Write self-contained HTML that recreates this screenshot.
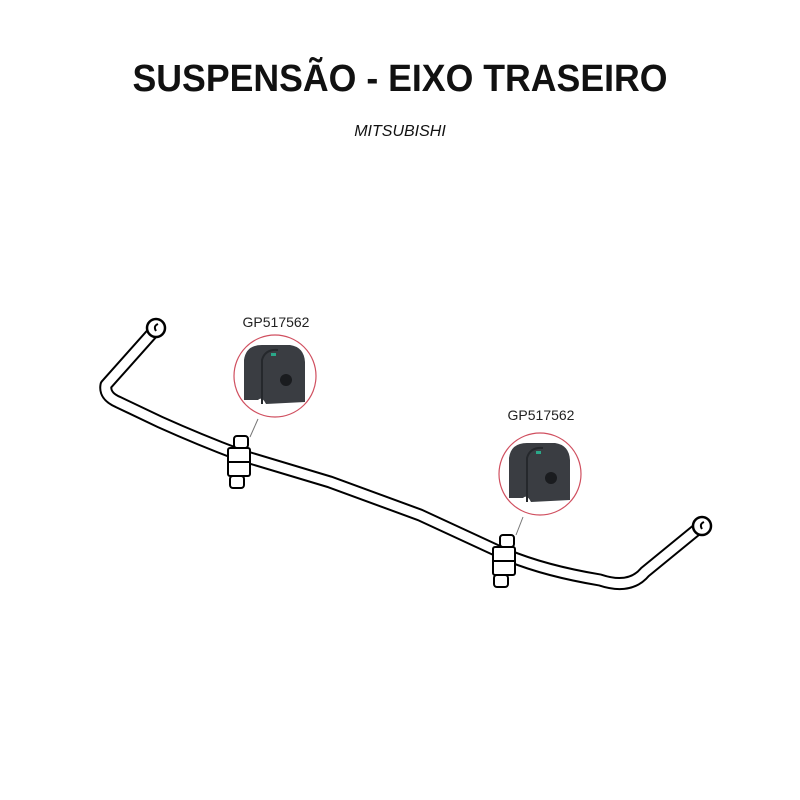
<!DOCTYPE html>
<html><head><meta charset="utf-8"><style>body{margin:0;background:#fff}svg{display:block}</style></head>
<body>
<svg width="800" height="800" viewBox="0 0 800 800" xmlns="http://www.w3.org/2000/svg">
<rect width="800" height="800" fill="#fff"/>
<text x="400" y="91" text-anchor="middle" font-family="Liberation Sans, sans-serif" font-weight="bold" font-size="38" textLength="535" lengthAdjust="spacingAndGlyphs" fill="#111">SUSPENSÃO - EIXO TRASEIRO</text>
<text x="400" y="136" text-anchor="middle" font-family="Liberation Sans, sans-serif" font-style="italic" font-size="16" font-weight="500" fill="#111">MITSUBISHI</text>

<g fill="none" stroke-linejoin="round" stroke-linecap="round">
<path d="M155,330 L106,385 Q104,396 118,402 L160,422 Q200,440 240,455 L330,482 L420,515 L500,552 Q540,570 600,580 Q630,590 645,572 L700,527" stroke="#000" stroke-width="13"/>
<path d="M155,330 L106,385 Q104,396 118,402 L160,422 Q200,440 240,455 L330,482 L420,515 L500,552 Q540,570 600,580 Q630,590 645,572 L700,527" stroke="#fff" stroke-width="9"/>
</g>
<circle cx="156" cy="328" r="9" fill="#fff" stroke="#000" stroke-width="2.5"/>
<path d="M158,324 q-5,2 -2,7" fill="none" stroke="#000" stroke-width="2"/>
<circle cx="702" cy="526" r="9" fill="#fff" stroke="#000" stroke-width="2.5"/>
<path d="M704,522 q-5,2 -2,7" fill="none" stroke="#000" stroke-width="2"/>

<g fill="#fff" stroke="#000" stroke-width="2">
<rect x="234" y="436" width="14" height="12" rx="3"/>
<rect x="228" y="448" width="22" height="28" rx="2"/>
<rect x="230" y="476" width="14" height="12" rx="3"/>
<line x1="228" y1="462" x2="250" y2="462"/>
<rect x="500" y="535" width="14" height="12" rx="3"/>
<rect x="493" y="547" width="22" height="28" rx="2"/>
<rect x="494" y="575" width="14" height="12" rx="3"/>
<line x1="493" y1="561" x2="515" y2="561"/>
</g>

<line x1="258" y1="419" x2="250" y2="437" stroke="#777" stroke-width="1"/>
<line x1="523" y1="517" x2="516" y2="535" stroke="#777" stroke-width="1"/>

<circle cx="275" cy="376" r="41" fill="#fff" stroke="#d05060" stroke-width="1.2"/>
<circle cx="540" cy="474" r="41" fill="#fff" stroke="#d05060" stroke-width="1.2"/>

<g id="b1">
<path d="M244,400 L244,360 Q246,345 262,345 L290,345 Q304,347 305,362 L305,402 L266,404 Q262,396 258,400 Z" fill="#3a3d42"/>
<path d="M262,404 L262,360 Q265,349 278,350" fill="none" stroke="#25282c" stroke-width="2"/>
<circle cx="286" cy="380" r="6" fill="#1a1c1f"/>
<rect x="271" y="353" width="5" height="3" fill="#2aa889"/>
</g>
<use href="#b1" transform="translate(265,98)"/>

<text x="276" y="327" text-anchor="middle" font-family="Liberation Sans, sans-serif" font-size="14" fill="#222">GP517562</text>
<text x="541" y="420" text-anchor="middle" font-family="Liberation Sans, sans-serif" font-size="14" fill="#222">GP517562</text>
</svg>
</body></html>
